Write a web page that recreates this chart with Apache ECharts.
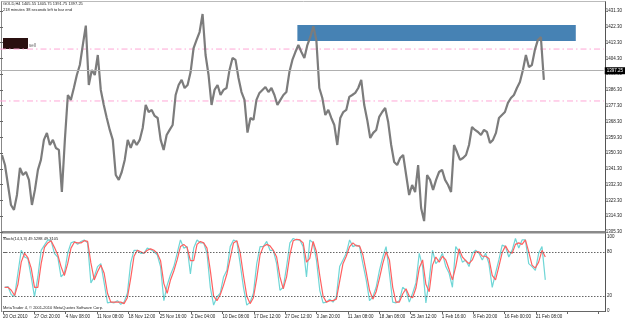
<!DOCTYPE html>
<html>
<head>
<meta charset="utf-8">
<script src="https://cdn.jsdelivr.net/npm/echarts@6/dist/echarts.min.js"></script>
<style>
  html, body { margin: 0; padding: 0; background: #fff; }
  #chart { width: 625px; height: 323px; }
</style>
</head>
<body>
<div id="chart"></div>
<script>
// GOLD H4 close-ish line, one value per 3 px of chart (left to right)
const prices = [
  1349.2, 1343.5, 1332.1, 1320.7, 1317.9, 1326.4, 1341.8, 1337.8, 1339.5, 1335.0,
  1320.7, 1329.3, 1340.7, 1346.4, 1357.8, 1361.8, 1354.9, 1357.8, 1353.2, 1352.1,
  1328.1, 1357.8, 1383.4, 1380.6, 1387.4, 1394.8, 1400.5, 1411.9, 1423.0, 1389.1,
  1397.7, 1394.8, 1406.2, 1386.3, 1377.7, 1370.3, 1363.5, 1357.8, 1337.8, 1335.0,
  1339.5, 1346.4, 1357.8, 1353.2, 1357.8, 1354.9, 1357.8,
  1364.6, 1377.7, 1373.7, 1374.9, 1371.5, 1370.3, 1357.8, 1352.1, 1360.6, 1363.5,
  1366.3, 1383.4, 1389.1, 1392.0, 1387.4, 1389.1, 1396.5, 1410.2, 1414.8, 1419.3,
  1429.6, 1406.2, 1394.8, 1377.7, 1386.3, 1389.1, 1383.4, 1386.3, 1387.4, 1397.7,
  1404.5, 1403.4, 1393.1, 1385.1, 1380.6, 1362.0, 1370.3, 1369.2, 1380.6, 1384.6,
  1386.3, 1388.0, 1385.1, 1387.4, 1383.4, 1377.7,
  1380.6, 1383.4, 1385.1, 1396.5, 1403.4, 1407.9, 1411.9, 1407.9, 1404.5, 1411.9,
  1416.5, 1422.6, 1414.8, 1387.4, 1381.7, 1372.0, 1374.9, 1370.3, 1366.3, 1354.9,
  1370.3, 1373.7, 1374.9, 1382.3, 1383.4, 1384.6, 1387.4, 1392.0, 1377.7, 1369.2,
  1358.9, 1361.8, 1363.5, 1370.9, 1373.7, 1376.0, 1368.0, 1354.9, 1345.2, 1343.5,
  1347.5, 1349.2, 1337.8, 1326.4, 1332.1, 1328.1, 1343.5,
  1319.0, 1311.5, 1337.8, 1335.0, 1329.3, 1335.0, 1339.5, 1340.7, 1335.0, 1332.1,
  1328.1, 1354.9, 1350.9, 1346.4, 1347.5, 1349.2, 1354.9, 1365.2, 1363.5, 1362.3,
  1360.6, 1363.5, 1362.3, 1356.1, 1357.8, 1361.8, 1370.3, 1372.0, 1373.7, 1378.9,
  1381.7, 1383.4, 1387.4, 1390.8, 1397.7, 1406.2, 1399.4, 1400.5, 1409.1, 1414.8,
  1416.5, 1392.0
];

// Stochastic(14,3,3), one value per 3.33 px
const stochMain = [
  32, 33, 22, 20, 51, 82, 73, 71, 46, 19, 46, 82, 89, 96, 95, 78, 73, 46, 51, 78,
  92, 94, 90, 94, 96, 92, 38, 46, 60, 64, 38, 11, 12, 11, 14, 9, 12, 24, 65, 82, 82, 78,
  78, 85, 83, 80, 76, 60, 14, 35, 49, 60, 78, 96, 85, 87, 50, 85, 96, 92, 92, 78,
  32, 8, 19, 24, 46, 55, 87, 96, 94, 64, 32, 8, 12, 24, 64, 87, 87, 94, 82, 82, 64, 28,
  32, 60, 92, 98, 96, 96, 87, 46, 96, 92, 69, 28, 11, 12, 16, 12, 19, 60, 69, 78,
  96, 87, 89, 87, 64, 42, 14, 19, 32, 55, 73, 87, 51, 12, 11, 14, 32, 28, 12, 24, 38, 78,
  60, 11, 42, 82, 64, 69, 78, 60, 51, 32, 87, 80, 66, 69, 60, 78, 82, 78, 69, 78,
  64, 32, 51, 69, 89, 87, 73, 82, 98, 85, 96, 96, 64, 60, 55, 78, 87, 42
];
const stochSignal = [
  32, 32, 28, 21, 36, 66, 78, 72, 58, 32, 32, 64, 86, 92, 95, 86, 76, 60, 48, 64,
  85, 93, 92, 92, 95, 94, 65, 42, 53, 62, 51, 24, 12, 12, 12, 12, 10, 18, 44, 74, 82, 80,
  78, 82, 84, 82, 78, 68, 37, 24, 42, 54, 69, 87, 90, 86, 68, 68, 90, 94, 92, 85,
  55, 20, 14, 22, 35, 50, 71, 92, 95, 79, 48, 20, 10, 18, 44, 76, 87, 90, 88, 82, 73, 46,
  30, 46, 76, 95, 97, 96, 92, 66, 71, 94, 80, 48, 20, 12, 14, 14, 16, 40, 64, 74,
  87, 92, 88, 88, 76, 53, 28, 16, 26, 44, 64, 80, 69, 32, 12, 12, 23, 30, 20, 18, 31, 58,
  69, 36, 26, 62, 73, 66, 74, 69, 56, 42, 60, 84, 73, 68, 64, 69, 80, 80, 74, 74,
  71, 48, 42, 60, 79, 88, 80, 78, 90, 92, 90, 96, 80, 62, 58, 66, 82, 73
];

const dateLabels = [
  "20 Oct 2010", "27 Oct 20:00", "4 Nov 08:00", "11 Nov 08:00", "18 Nov 12:00",
  "25 Nov 16:00", "2 Dec 04:00", "10 Dec 08:00", "17 Dec 12:00", "27 Dec 12:00",
  "3 Jan 20:00", "11 Jan 08:00", "18 Jan 08:00", "25 Jan 12:00", "1 Feb 16:00",
  "8 Feb 20:00", "16 Feb 00:00", "21 Feb 08:00"
];

const bidPrice = 1397.25;
const levels = [1409.6, 1380.0];
const sellZone = [1414.2, 1423.3];
const stochLevels = [20, 80];

const FONT = "Liberation Sans";
const X_MAX = 605;
const priceData = prices.map((v, i) => [2 + i * 3, v]);
const mainData = stochMain.map((v, i) => [1.67 + i * 10 / 3, v]);
const signalData = stochSignal.map((v, i) => [1.67 + i * 10 / 3, v]);

// horizontal level lines as plain two-point line series
const levelSeries = levels.map((v) => ({
  type: "line", xAxisIndex: 0, yAxisIndex: 0, silent: true, showSymbol: false,
  data: [[0, v], [X_MAX, v]],
  lineStyle: { color: "#ffa6d6", width: 1, type: [6, 3, 1.5, 3] },
  z: 1
}));

const chart = echarts.init(document.getElementById("chart"));

chart.setOption({
  animation: false,
  backgroundColor: "#fff",
  textStyle: { fontFamily: FONT },
  grid: [
    { left: 0, right: 20, top: 11, bottom: 91 },
    { left: 0, right: 20, top: 237, bottom: 12 }
  ],
  xAxis: [
    { gridIndex: 0, type: "value", min: 0, max: X_MAX, show: false },
    {
      gridIndex: 1, type: "value", min: 0, max: X_MAX, interval: 31.5,
      axisLine: { lineStyle: { color: "#666" } },
      axisTick: { length: 3, lineStyle: { color: "#666" } },
      splitLine: { show: false },
      axisLabel: {
        fontSize: 4.5, color: "#222", align: "left", margin: 3,
        showMaxLabel: false,
        formatter: (v) => dateLabels[Math.round(v / 31.5)] || ""
      }
    }
  ],
  yAxis: [
    {
      gridIndex: 0, type: "value", position: "right",
      min: 1305.3, max: 1431.3, interval: 9,
      axisLine: { show: false },
      axisTick: { show: true, length: 3, lineStyle: { color: "#666" } },
      splitLine: { show: false },
      axisLabel: { fontSize: 4.5, color: "#222", margin: 2, formatter: (v) => v.toFixed(2) }
    },
    {
      gridIndex: 1, type: "value", position: "right",
      min: 0, max: 100, interval: 20,
      axisLine: { show: false },
      axisTick: { show: true, length: 3, lineStyle: { color: "#666" }, customValues: [0, 20, 80, 100] },
      splitLine: { show: false },
      axisLabel: {
        fontSize: 4.5, color: "#222", margin: 2, customValues: [0, 20, 80, 100],
        formatter: (v) => ([0, 20, 80, 100].includes(v) ? String(v) : "")
      }
    }
  ],
  series: [
    ...levelSeries,
    {
      name: "GOLD", type: "line", xAxisIndex: 0, yAxisIndex: 0,
      data: priceData, showSymbol: false, z: 3,
      lineStyle: { color: "#7c7c7c", width: 2.2 },
      markArea: {
        silent: true,
        itemStyle: { color: "#4682b4", opacity: 1 },
        data: [[{ xAxis: 298, yAxis: sellZone[1] }, { xAxis: 577, yAxis: sellZone[0] }]]
      },
      markLine: {
        silent: true, symbol: ["none", "none"],
        data: [
          {
            yAxis: bidPrice,
            lineStyle: { color: "#b0b0b0", width: 1, type: "solid" },
            label: {
              show: true, position: "end", distance: 1,
              formatter: bidPrice.toFixed(2),
              backgroundColor: "#000", color: "#fff", fontSize: 4.5, padding: [1, 2]
            }
          }
        ]
      }
    },
    {
      name: "Main", type: "line", xAxisIndex: 1, yAxisIndex: 1,
      data: mainData, showSymbol: false,
      lineStyle: { color: "#6fd6d6", width: 1.2 }
    },
    {
      name: "Signal", type: "line", xAxisIndex: 1, yAxisIndex: 1,
      data: signalData, showSymbol: false,
      lineStyle: { color: "#ff6060", width: 1.2 },
      markLine: {
        silent: true, symbol: ["none", "none"],
        lineStyle: { color: "#666", width: 1, type: [1.5, 1.5] },
        label: { show: false },
        data: stochLevels.map((v) => ({ yAxis: v }))
      }
    }
  ],
  graphic: [
    { type: "line", shape: { x1: 1.5, y1: 1, x2: 1.5, y2: 312 }, style: { stroke: "#888", lineWidth: 1 } },
    { type: "line", shape: { x1: 605.5, y1: 1, x2: 605.5, y2: 312 }, style: { stroke: "#555", lineWidth: 1 } },
    { type: "line", shape: { x1: 1.5, y1: 1.5, x2: 605.5, y2: 1.5 }, style: { stroke: "#bbb", lineWidth: 1 } },
    { type: "rect", shape: { x: 1.5, y: 231, width: 604, height: 2.5 }, style: { fill: "#8a8a8a" } },
    { type: "rect", shape: { x: 3, y: 38, width: 25, height: 11 }, style: { fill: "#2a1010" } },
    { type: "text", x: 29, y: 43, style: { text: "sell", fontSize: 4.5, fill: "#666", fontFamily: FONT } },
    { type: "text", x: 3, y: 2, style: { text: "GOLD,H4 1405.55 1405.75 1391.75 1397.25", fontSize: 4, fill: "#222", fontFamily: FONT } },
    { type: "text", x: 3, y: 8, style: { text: "218 minutes 38 seconds left to bar end", fontSize: 4, fill: "#222", fontFamily: FONT } },
    { type: "text", x: 3, y: 237, style: { text: "Stoch(14,3,3) 49.5288 49.3105", fontSize: 4, fill: "#222", fontFamily: FONT } },
    { type: "text", x: 3, y: 306, style: { text: "MetaTrader 4, \u00a9 2001-2010 MetaQuotes Software Corp.", fontSize: 4, fill: "#222", fontFamily: FONT } }
  ]
});
</script>
</body>
</html>
